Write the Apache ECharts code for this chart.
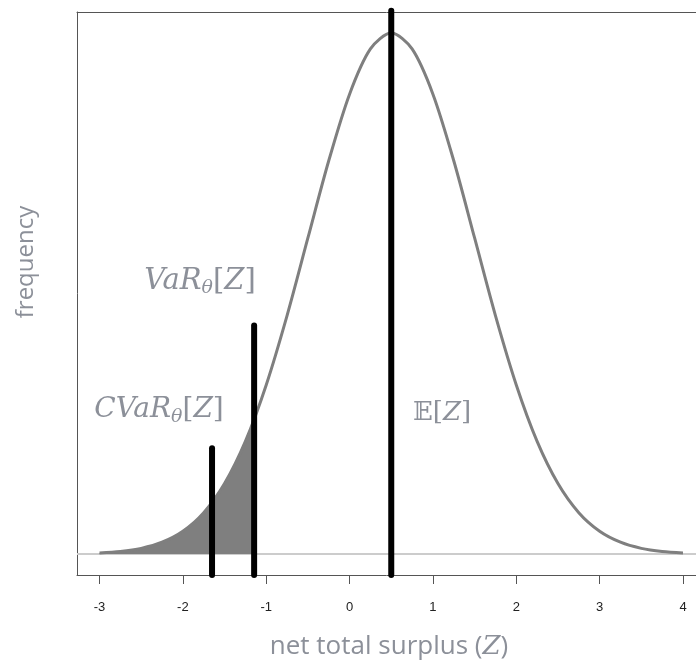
<!DOCTYPE html>
<html>
<head>
<meta charset="utf-8">
<script src="https://cdn.jsdelivr.net/npm/echarts@6/dist/echarts.min.js"></script>
<style>html,body{margin:0;padding:0;background:#fff}#c{width:696px;height:668px}</style>
</head>
<body>
<div id="c"></div>
<script>
// x positions of the density curve (net total surplus Z)
const zValues = [-3, -2.75, -2.5, -2.25, -2, -1.75, -1.5, -1.25, -1, -0.75, -0.5, -0.25, 0, 0.25, 0.5,
                 0.75, 1, 1.25, 1.5, 1.75, 2, 2.25, 2.5, 2.75, 3, 3.25, 3.5, 3.75, 4];
// frequency (density)
const freq = [0.0009, 0.0020, 0.0044, 0.0091, 0.0175, 0.0317, 0.0540, 0.0863, 0.1295, 0.1826, 0.2420, 0.3011, 0.3521, 0.3867, 0.3989,
              0.3867, 0.3521, 0.3011, 0.2420, 0.1826, 0.1295, 0.0863, 0.0540, 0.0317, 0.0175, 0.0091, 0.0044, 0.0020, 0.0009];
// shaded tail (left of VaR)
const tailZ = [-3, -2.75, -2.5, -2.25, -2, -1.75, -1.5, -1.25, -1.145];
const tailFreq = [0.0009, 0.0020, 0.0044, 0.0091, 0.0175, 0.0317, 0.0540, 0.0863, 0.1023];
// vertical markers
const markerNames = ['CVaR', 'VaR', 'E'];
const markerX = [-1.65, -1.145, 0.5];
const markerTop = [0.081, 0.175, 0.416];
const xTicks = [-3, -2, -1, 0, 1, 2, 3, 4];
const xMin = -3.27, xMax = 4.156, yMin = -0.016, yMax = 0.415;

const chart = echarts.init(document.getElementById('c'), null, {renderer: 'canvas'});
const txtColor = '#8c9099';
const mathFont = '"DejaVu Serif", "Liberation Serif", serif';
const uiFont = '"Open Sans", Lato, sans-serif';

const series = [
  {
    type: 'line', data: tailZ.map((z, i) => [z, tailFreq[i]]), smooth: 0.3, symbol: 'none',
    lineStyle: {width: 0}, areaStyle: {color: '#7f7f7f', opacity: 1, origin: 0}, z: 2, silent: true
  },
  {
    type: 'line', data: zValues.map((z, i) => [z, freq[i]]), smooth: 0.3, symbol: 'none',
    lineStyle: {color: '#7f7f7f', width: 3}, z: 3, silent: true,
    markLine: {silent: true, symbol: 'none', label: {show: false},
      lineStyle: {color: '#cccccc', width: 2, type: 'solid'}, data: [{yAxis: 0}], z: 1}
  }
];
markerX.forEach((x, i) => {
  series.push({
    type: 'line', name: markerNames[i], data: [[x, yMin], [x, markerTop[i]]], symbol: 'none', clip: false,
    lineStyle: {color: '#000', width: 6, cap: 'round'}, z: 5, silent: true
  });
});

chart.setOption({
  animation: false,
  grid: {left: 77, top: 12, right: 0, height: 563, show: false},
  xAxis: [{
    type: 'value', min: xMin, max: xMax, position: 'bottom',
    axisLine: {show: true, onZero: false, lineStyle: {color: '#555'}},
    axisTick: {show: true, length: 9, lineStyle: {color: '#555'}, customValues: xTicks},
    axisLabel: {show: true, customValues: xTicks, margin: 26, fontSize: 13, color: '#222',
      fontFamily: '"Liberation Sans", Arial, sans-serif'},
    splitLine: {show: false}
  }, {
    type: 'value', min: xMin, max: xMax, position: 'top',
    axisLine: {show: true, onZero: false, lineStyle: {color: '#555'}},
    axisTick: {show: false}, axisLabel: {show: false}, splitLine: {show: false}
  }],
  yAxis: {
    type: 'value', min: yMin, max: yMax,
    axisLine: {show: true, onZero: false, lineStyle: {color: '#555'}}, axisTick: {show: false}, axisLabel: {show: false}, splitLine: {show: false}
  },
  series: series,
  graphic: [
    {type: 'text', x: 389, y: 647, style: {
      text: 'net total surplus ({z|Z})', align: 'center', verticalAlign: 'middle',
      font: '26px ' + uiFont, fill: txtColor,
      rich: {z: {fontFamily: mathFont, fontStyle: 'italic', fontSize: 26, fill: txtColor}}
    }},
    {type: 'text', x: 26, y: 262, rotation: Math.PI / 2, style: {
      text: 'frequency', align: 'center', verticalAlign: 'middle', font: '24px ' + uiFont, fill: txtColor
    }},
    {type: 'text', x: 200, y: 281, style: {
      text: '{i|VaR}{s|θ}{n|[}{i|Z}{n|]}', align: 'center', verticalAlign: 'middle',
      rich: {
        i: {fontFamily: mathFont, fontStyle: 'italic', fontSize: 29, lineHeight: 34, fill: txtColor},
        n: {fontFamily: mathFont, fontSize: 29, lineHeight: 34, fill: txtColor},
        s: {fontFamily: mathFont, fontStyle: 'italic', fontSize: 19, lineHeight: 18, verticalAlign: 'bottom', fill: txtColor}
      }
    }},
    {type: 'text', x: 159, y: 410, style: {
      text: '{i|CVaR}{s|θ}{n|[}{i|Z}{n|]}', align: 'center', verticalAlign: 'middle',
      rich: {
        i: {fontFamily: mathFont, fontStyle: 'italic', fontSize: 28, lineHeight: 34, fill: txtColor},
        n: {fontFamily: mathFont, fontSize: 28, lineHeight: 34, fill: txtColor},
        s: {fontFamily: mathFont, fontStyle: 'italic', fontSize: 19, lineHeight: 18, verticalAlign: 'bottom', fill: txtColor}
      }
    }},
    {type: 'text', x: 442, y: 413, style: {
      text: '{b|𝔼}{n|[}{i|Z}{n|]}', align: 'center', verticalAlign: 'middle',
      rich: {
        b: {fontFamily: mathFont, fontSize: 26, lineHeight: 32, fill: txtColor},
        i: {fontFamily: mathFont, fontStyle: 'italic', fontSize: 26, lineHeight: 32, fill: txtColor},
        n: {fontFamily: mathFont, fontSize: 26, lineHeight: 32, fill: txtColor}
      }
    }}
  ]
});
</script>
</body>
</html>
